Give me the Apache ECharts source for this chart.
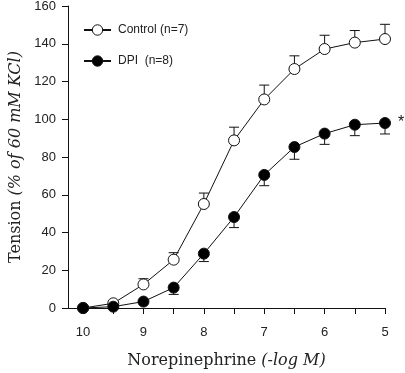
<!DOCTYPE html>
<html>
<head>
<meta charset="utf-8">
<script src="https://cdn.jsdelivr.net/npm/echarts@6/dist/echarts.min.js"></script>
<style>
  html, body { margin: 0; padding: 0; background: #fff; }
  #chart { width: 405px; height: 373px; }
</style>
</head>
<body>
<div id="chart"></div>
<script>
// -log M concentration of norepinephrine
const doses = [10, 9.5, 9, 8.5, 8, 7.5, 7, 6.5, 6, 5.5, 5]
const controlMean = [0, 2.5, 12.5, 25.6, 55.1, 88.8, 110.5, 126.6, 137.2, 140.6, 142.5]
const controlSem = [0, 1, 3, 3.7, 5.8, 7, 7.6, 7, 7.3, 6.4, 7.8]
const dpiMean = [0, 0.7, 3.4, 10.8, 28.8, 48.2, 70.5, 85.3, 92.4, 97.1, 98]
const dpiSem = [0, 0.8, 0, 3.6, 4.2, 5.6, 5.7, 6.5, 5.7, 5.8, 5.8]
const xTickValues = [5, 5.5, 6, 6.5, 7, 7.5, 8, 8.5, 9, 9.5, 10]
const xLabelValues = [5, 6, 7, 8, 9, 10]

const chart = echarts.init(document.getElementById('chart'))

const toPairs = (means) => doses.map((d, i) => [d, means[i]])

// dir: 1 = bar goes up, -1 = bar goes down
const errorBars = (means, sems, dir) => ({
  type: 'custom',
  silent: true,
  z: 1,
  data: doses.map((d, i) => [d, means[i], means[i] + dir * sems[i]]),
  renderItem: (params, api) => {
    if (api.value(1) === api.value(2)) return null
    const p0 = api.coord([api.value(0), api.value(1)])
    const p1 = api.coord([api.value(0), api.value(2)])
    const style = { stroke: '#111', lineWidth: 1 }
    return {
      type: 'group',
      children: [
        { type: 'line', shape: { x1: p0[0], y1: p0[1], x2: p1[0], y2: p1[1] }, style },
        { type: 'line', shape: { x1: p1[0] - 5, y1: p1[1], x2: p1[0] + 5, y2: p1[1] }, style },
      ],
    }
  },
})

const dpiData = toPairs(dpiMean)
dpiData[dpiData.length - 1] = {
  value: dpiData[dpiData.length - 1],
  label: { show: true, position: 'right', distance: 7, formatter: '*', fontSize: 16, color: '#111', fontFamily: 'Liberation Sans' },
}

const titleRich = {
  a: { fontFamily: 'DejaVu Serif', fontSize: 16, color: '#222' },
  b: { fontFamily: 'DejaVu Serif', fontSize: 16, fontStyle: 'italic', color: '#222' },
}

chart.setOption({
  animation: false,
  backgroundColor: '#fff',
  grid: { left: 68, right: 20, top: 6, bottom: 65, outerBoundsMode: 'none' },
  legend: {
    orient: 'vertical',
    left: 83,
    top: 24,
    padding: 0,
    itemWidth: 27,
    itemHeight: 13,
    itemGap: 19,
    textStyle: { fontFamily: 'Liberation Sans', fontSize: 12, color: '#222', padding: [0, 0, 0, 2] },
    itemStyle: { borderWidth: 1 },
    data: ['Control (n=7)', 'DPI  (n=8)'],
  },
  xAxis: {
    type: 'value',
    min: 5,
    max: 10.25,
    inverse: true,
    name: '{a|Norepinephrine }{b|(-log M)}',
    nameLocation: 'middle',
    nameGap: 45,
    nameTextStyle: { rich: titleRich },
    axisLine: { lineStyle: { color: '#111', width: 1 } },
    axisTick: { length: 6, customValues: xTickValues, lineStyle: { color: '#111' } },
    axisLabel: {
      customValues: xLabelValues,
      margin: 18,
      fontFamily: 'Liberation Sans',
      fontSize: 13,
      color: '#222',
    },
    splitLine: { show: false },
  },
  yAxis: {
    type: 'value',
    min: 0,
    max: 160,
    interval: 20,
    name: '{a|Tension }{b|(% of 60 mM KCl)}',
    nameLocation: 'middle',
    nameGap: 44,
    nameTextStyle: { rich: titleRich },
    axisLine: { show: true, lineStyle: { color: '#111', width: 1 } },
    axisTick: { show: true, length: 6, lineStyle: { color: '#111' } },
    axisLabel: { margin: 12, fontFamily: 'Liberation Sans', fontSize: 13, color: '#222' },
    splitLine: { show: false },
  },
  series: [
    errorBars(controlMean, controlSem, 1),
    errorBars(dpiMean, dpiSem, -1),
    {
      type: 'line',
      name: 'Control (n=7)',
      data: toPairs(controlMean),
      z: 3,
      symbol: 'circle',
      symbolSize: 11,
      lineStyle: { color: '#111', width: 1 },
      itemStyle: { color: '#fff', borderColor: '#111', borderWidth: 1 },
    },
    {
      type: 'line',
      name: 'DPI  (n=8)',
      data: dpiData,
      z: 3,
      symbol: 'circle',
      symbolSize: 11,
      lineStyle: { color: '#111', width: 1 },
      itemStyle: { color: '#000', borderColor: '#111', borderWidth: 1 },
    },
  ],
})
</script>
</body>
</html>
